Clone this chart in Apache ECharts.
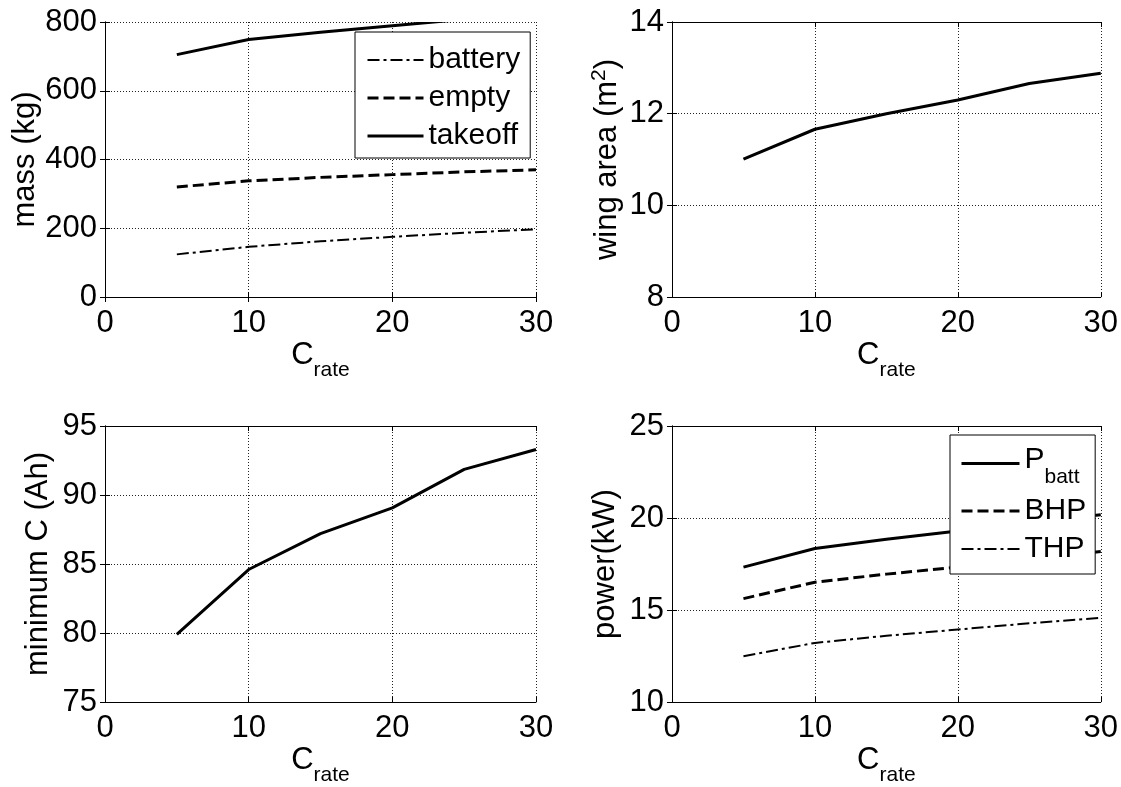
<!DOCTYPE html>
<html>
<head>
<meta charset="utf-8">
<script src="https://cdn.jsdelivr.net/npm/echarts@6/dist/echarts.min.js"></script>
<style>
html,body{margin:0;padding:0;background:#fff;}
#chart{width:1121px;height:787px;}
</style>
</head>
<body>
<div id="chart"></div>
<script>
// ---- data ----
const cRate = [5, 10, 15, 20, 25, 30];
const batteryMass = [124, 146, 162, 175, 187, 197];
const emptyMass = [320, 338, 348, 356, 364, 370];
const takeoffMass = [705, 749, 770, 789, 808, 824];
const wingArea = [11.01, 11.66, 12.0, 12.30, 12.66, 12.88];
const minCapacity = [79.9, 84.6, 87.2, 89.07, 91.86, 93.3];
const pBatt = [17.33, 18.34, 18.85, 19.29, 19.75, 20.18];
const bhp = [15.62, 16.51, 16.95, 17.33, 17.78, 18.18];
const thp = [12.49, 13.21, 13.6, 13.94, 14.28, 14.57];
const xTicks = [0, 10, 20, 30];

const FONT = 'Liberation Sans';
const FS = 31;
const SUB = 21;

const SOLID = {width: 3, type: 'solid'};
const DASH = {width: 3, type: [11, 5]};
const DASHDOT = {width: 2, type: [12, 4, 3, 4]};

function pairs(xs, ys) { return xs.map((x, i) => [x, ys[i]]); }

const grids = [
  {left: 105, top: 22, width: 431, height: 275},
  {left: 672, top: 22, width: 430, height: 275},
  {left: 105, top: 426, width: 431, height: 276},
  {left: 672, top: 426, width: 430, height: 276}
];
const yCfg = [
  {min: 0, max: 800, interval: 200, name: 'mass (kg)', gap: 62},
  {min: 8, max: 14, interval: 2, name: '{t|wing area (m}{u|2}{t|)}', gap: 51},
  {min: 75, max: 95, interval: 5, name: 'minimum C (Ah)', gap: 51},
  {min: 10, max: 25, interval: 5, name: 'power(kW)', gap: 51}
];

const split = {show: true, lineStyle: {color: '#222', width: 1, type: [1, 2]}};
const axLine = {show: true, lineStyle: {color: '#000', width: 1}};
const tick = {show: true, inside: true, length: 5, lineStyle: {color: '#000', width: 1}};

const xAxes = [], yAxes = [];
grids.forEach((g, i) => {
  xAxes.push({
    type: 'value', gridIndex: i, position: 'bottom', min: xTicks[0], max: xTicks[xTicks.length - 1], interval: 10,
    axisLine: axLine, axisTick: tick, splitLine: split,
    axisLabel: {color: '#000', fontFamily: FONT, fontSize: FS, margin: 11},
    name: '{c|C}{s|rate}', nameLocation: 'middle', nameGap: 44,
    nameTextStyle: {color: '#000', fontFamily: FONT, rich: {
      c: {fontSize: FS, fontFamily: FONT, color: '#000', lineHeight: 31, padding: [0, 0, 10, 0]},
      s: {fontSize: SUB, fontFamily: FONT, color: '#000', lineHeight: 21, padding: [19, 0, 0, 0]}
    }}
  });
  yAxes.push({
    type: 'value', gridIndex: i, position: 'left', min: yCfg[i].min, max: yCfg[i].max, interval: yCfg[i].interval,
    axisLine: axLine, axisTick: tick, splitLine: split,
    axisLabel: {color: '#000', fontFamily: FONT, fontSize: FS, margin: 8},
    name: yCfg[i].name, nameLocation: 'middle', nameGap: yCfg[i].gap, nameRotate: 90,
    nameTextStyle: {color: '#000', fontFamily: FONT, fontSize: FS, rich: {
      t: {fontSize: FS, fontFamily: FONT, color: '#000', lineHeight: 31, padding: [3, 0, 0, 0]},
      u: {fontSize: SUB, fontFamily: FONT, color: '#000', lineHeight: 21, padding: [0, 0, 12, 0]}
    }}
  });
});
grids.forEach((g, i) => {
  xAxes.push({
    type: 'value', gridIndex: i, position: 'top', min: xTicks[0], max: xTicks[xTicks.length - 1], interval: 10,
    axisLine: axLine, axisTick: tick, splitLine: {show: false}, axisLabel: {show: false}
  });
  yAxes.push({
    type: 'value', gridIndex: i, position: 'right', min: yCfg[i].min, max: yCfg[i].max, interval: yCfg[i].interval,
    axisLine: axLine, axisTick: tick, splitLine: {show: false}, axisLabel: {show: false}
  });
});

function line(name, idx, data, st) {
  return {
    name: name, type: 'line', xAxisIndex: idx, yAxisIndex: idx, data: data,
    symbol: 'none', showSymbol: false, clip: true, silent: true, z: 2,
    lineStyle: {color: '#000', width: st.width, type: st.type},
    itemStyle: {color: 'rgba(0,0,0,0)'}
  };
}

const series = [
  line('battery', 0, pairs(cRate, batteryMass), DASHDOT),
  line('empty', 0, pairs(cRate, emptyMass), DASH),
  line('takeoff', 0, pairs(cRate, takeoffMass), SOLID),
  line('wing', 1, pairs(cRate, wingArea), SOLID),
  line('minC', 2, pairs(cRate, minCapacity), SOLID),
  line('P_batt', 3, pairs(cRate, pBatt), SOLID),
  line('BHP', 3, pairs(cRate, bhp), DASH),
  line('THP', 3, pairs(cRate, thp), DASHDOT)
];

function legItem(name, st) {
  return {name: name, lineStyle: {color: '#000', width: st.width, type: st.type, opacity: 1}};
}

const legendBase = {
  orient: 'vertical', backgroundColor: '#fff', borderColor: '#000', borderWidth: 1, borderRadius: 0,
  itemWidth: 56, itemHeight: 14, itemGap: 8, selectedMode: false,
  itemStyle: {color: 'rgba(0,0,0,0)', opacity: 0},
  textStyle: {color: '#000', fontFamily: FONT, fontSize: 30}
};

// white masks just outside the plot boxes so clipped lines stop at the axes edge (like the original)
const masks = grids.map(g => ({
  type: 'rect', z: 3, silent: true,
  shape: {x: g.left + 1, y: g.top - 6, width: g.width - 1, height: 6},
  style: {fill: '#fff'}
}));

const chart = echarts.init(document.getElementById('chart'), null, {renderer: 'canvas'});
chart.setOption({
  animation: false,
  backgroundColor: '#fff',
  grid: grids,
  xAxis: xAxes,
  yAxis: yAxes,
  graphic: masks,
  legend: [
    Object.assign({}, legendBase, {
      data: [legItem('battery', DASHDOT), legItem('empty', DASH), legItem('takeoff', SOLID)],
      left: 355, top: 32, padding: [13, 10, 7, 11], itemTextGap: 7}),
    Object.assign({}, legendBase, {
      data: [legItem('P_batt', SOLID), legItem('BHP', DASH), legItem('THP', DASHDOT)],
      left: 950, top: 435, padding: [4, 9, 10, 10], itemWidth: 58, itemTextGap: 5, itemGap: 8,
      formatter: function (n) { return n === 'P_batt' ? '{p|P}{s|batt}' : n; },
      textStyle: {color: '#000', fontFamily: FONT, fontSize: 30, rich: {
        p: {fontSize: 30, fontFamily: FONT, color: '#000', lineHeight: 30, padding: [0, 0, 8, 0]},
        s: {fontSize: SUB, fontFamily: FONT, color: '#000', lineHeight: 21, padding: [28, 0, 0, 0]}
      }}
    })
  ],
  series: series
});
</script>
</body>
</html>
